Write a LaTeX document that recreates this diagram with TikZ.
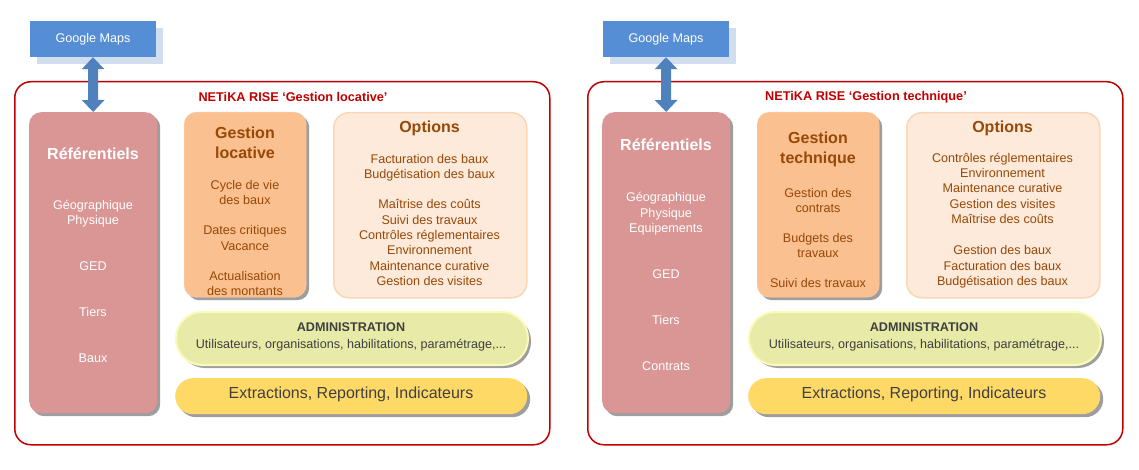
\documentclass[tikz,border=0pt]{standalone}
\usepackage{fontspec}
\setmainfont{Liberation Sans}
\usetikzlibrary{arrows.meta,shadows}
\definecolor{mapsblue}{RGB}{85,142,213}
\definecolor{mapsshade}{RGB}{208,222,240}
\definecolor{arrowblue}{RGB}{79,129,189}
\definecolor{framered}{RGB}{192,0,0}
\definecolor{refpink}{RGB}{217,150,148}
\definecolor{gestpeach}{RGB}{250,192,144}
\definecolor{gestedge}{RGB}{251,208,170}
\definecolor{optfill}{RGB}{253,234,218}
\definecolor{optedge}{RGB}{252,213,181}
\definecolor{adminfill}{RGB}{232,234,168}
\definecolor{adminedge}{RGB}{252,250,186}
\definecolor{extrfill}{RGB}{255,217,102}
\definecolor{textbrown}{RGB}{152,72,7}
\definecolor{textgray}{RGB}{64,64,64}
\newcommand{\bodyfont}{\fontsize{12.6}{15.3}\selectfont}
\newcommand{\headfont}{\fontsize{16}{20}\selectfont\bfseries}
\tikzset{%
  boxshadow/.style = {drop shadow={shadow xshift=3pt,shadow yshift=-3pt,%
                      fill=black!38,opacity=1}},%
  mapsbox/.style   = {rectangle, fill=mapsblue, text=white, font=\bodyfont,%
                      minimum width=126pt, minimum height=36pt, inner sep=0pt,%
                      drop shadow={shadow xshift=7pt,shadow yshift=-7pt,%
                      fill=mapsshade,opacity=1}},%
  frame/.style     = {draw=framered, line width=1.5pt, rounded corners=16pt,%
                      minimum width=535pt, minimum height=363pt, anchor=north west},%
  refbox/.style    = {fill=refpink, rounded corners=12pt, boxshadow,%
                      minimum width=128pt, minimum height=301pt, anchor=north west},%
  gestbox/.style   = {draw=gestedge, fill=gestpeach, rounded corners=12pt, boxshadow,%
                      minimum width=122pt, minimum height=185pt, anchor=north west},%
  optbox/.style    = {draw=optedge, line width=1.5pt, fill=optfill, rounded corners=15pt,%
                      minimum width=193pt, minimum height=185pt, anchor=north west},%
  adminbox/.style  = {draw=adminedge, line width=2pt, fill=adminfill,%
                      rounded corners=26pt, boxshadow,%
                      minimum width=352pt, minimum height=53pt, anchor=north west},%
  extrbox/.style   = {fill=extrfill, rounded corners=18pt, boxshadow,%
                      minimum width=352pt, minimum height=36pt, anchor=north west},%
  titletext/.style = {font=\fontsize{12.7}{15}\selectfont\bfseries, text=framered},%
  refhead/.style   = {font=\headfont, text=white},%
  reftext/.style   = {font=\bodyfont, text=white, align=center},%
  gesthead/.style  = {font=\headfont, text=textbrown, align=center},%
  gesttext/.style  = {font=\bodyfont, text=textbrown, align=center},%
  admintext/.style = {font=\fontsize{12.6}{17}\selectfont, text=textgray, align=center},%
  extrtext/.style  = {font=\fontsize{16}{19}\selectfont, text=textgray},%
  bigarrow/.style  = {draw=arrowblue, line width=10pt,%
                      {Triangle[width=22pt,length=12pt]}-{Triangle[width=22pt,length=12pt]}}%
}
\begin{document}
\begin{tikzpicture}[x=1pt,y=-1pt,inner sep=0pt]
\useasboundingbox (0,0) rectangle (1139,470);
\node[frame] (frameL) at (14,81) {};
\node[mapsbox] (mapsL) at (93,39) {Google Maps};
\node[titletext] (titleL) at (293,97) {NETiKA RISE ‘Gestion locative’};
\node[refbox] (refL) at (29,112) {};
\node[gestbox] (gestL) at (184,112) {};
\node[optbox] (optL) at (333,112) {};
\node[adminbox] (adminL) at (175,311) {};
\node[extrbox] (extrL) at (175,378) {};
\draw[bigarrow] (mapsL.south) -- (refL.north);
\node[refhead] (refheadL) at (93,154) {Référentiels};
\node[reftext] (reftextL) at (93,281.5)
  {Géographique\\Physique\\[30.6pt]GED\\[30.6pt]Tiers\\[30.6pt]Baux};
\node[gesthead] (gestheadL) at (245,143) {Gestion\\locative};
\node[gesttext] (gesttextL) at (245,238)
  {Cycle de vie\\des baux\\[15pt]Dates critiques\\Vacance\\[15pt]Actualisation\\des montants};
\node[gesthead] (optheadL) at (429.5,128) {Options};
\node[gesttext] (opttextL) at (429.5,220)
  {Facturation des baux\\Budgétisation des baux\\[14.7pt]Maîtrise des coûts\\Suivi des travaux\\%
   Contrôles réglementaires\\Environnement\\Maintenance curative\\Gestion des visites};
\node[admintext] (admintextL) at (351,336.5)
  {\textbf{ADMINISTRATION}\\Utilisateurs, organisations, habilitations, paramétrage,...};
\node[extrtext] (extrtextL) at (351,394) {Extractions, Reporting, Indicateurs};
\begin{scope}[xshift=573pt]
\node[frame] (frameR) at (14,81) {};
\node[mapsbox] (mapsR) at (93,39) {Google Maps};
\node[titletext] (titleR) at (293,97) {NETiKA RISE ‘Gestion technique’};
\node[refbox] (refR) at (29,112) {};
\node[gestbox] (gestR) at (184,112) {};
\node[optbox] (optR) at (333,112) {};
\node[adminbox] (adminR) at (175,311) {};
\node[extrbox] (extrR) at (175,378) {};
\draw[bigarrow] (mapsR.south) -- (refR.north);
\node[refhead] (refheadR) at (93,145) {Référentiels};
\node[reftext] (reftextR) at (93,281.5)
  {Géographique\\Physique\\Equipements\\[30.6pt]GED\\[30.6pt]Tiers\\[30.6pt]Contrats};
\node[gesthead] (gestheadR) at (245,149.5) {Gestion\\technique};
\node[gesttext] (gesttextR) at (245,238)
  {Gestion des\\contrats\\[14.7pt]Budgets des\\travaux\\[14.7pt]Suivi des travaux};
\node[gesthead] (optheadR) at (429.5,128) {Options};
\node[gesttext] (opttextR) at (429.5,220.5)
  {Contrôles réglementaires\\Environnement\\Maintenance curative\\Gestion des visites\\%
   Maîtrise des coûts\\[16pt]Gestion des baux\\Facturation des baux\\Budgétisation des baux};
\node[admintext] (admintextR) at (351,336.5)
  {\textbf{ADMINISTRATION}\\Utilisateurs, organisations, habilitations, paramétrage,...};
\node[extrtext] (extrtextR) at (351,394) {Extractions, Reporting, Indicateurs};
\end{scope}
\end{tikzpicture}
\end{document}
